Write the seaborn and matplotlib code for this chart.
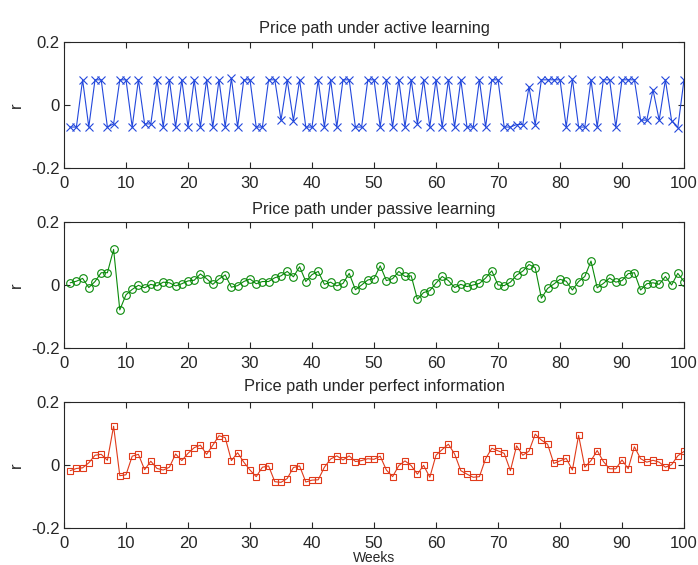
import numpy as np
import pandas as pd
import matplotlib
matplotlib.use("Agg")
import matplotlib.pyplot as plt
import seaborn as sns

weeks = list(range(1, 101))

active = [-0.07, -0.07, 0.08, -0.07, 0.08, 0.08, -0.07, -0.06, 0.08, 0.08,
          -0.07, 0.08, -0.06, -0.06, 0.08, -0.07, 0.08, -0.07, 0.08, -0.07,
          0.08, -0.07, 0.08, -0.07, 0.08, -0.07, 0.085, -0.07, 0.08, 0.08,
          -0.07, -0.07, 0.08, 0.08, -0.048, 0.08, -0.05, 0.08, -0.07, -0.07,
          0.08, -0.07, 0.08, -0.07, 0.08, 0.08, -0.07, -0.07, 0.08, 0.08,
          -0.07, 0.08, -0.07, 0.08, -0.07, 0.08, -0.06, 0.08, -0.07, 0.08,
          -0.07, 0.08, -0.07, 0.08, -0.07, -0.07, 0.08, -0.07, 0.08, 0.08,
          -0.07, -0.07, -0.062, -0.062, 0.058, -0.063, 0.08, 0.08, 0.08, 0.08,
          -0.07, 0.082, -0.07, -0.07, 0.08, -0.07, 0.08, 0.08, -0.07, 0.08,
          0.08, 0.08, -0.048, -0.048, 0.048, -0.048, 0.08, -0.05, -0.072, 0.08]

passive = [0.007, 0.012, 0.021, -0.008, 0.011, 0.039, 0.039, 0.113, -0.079, -0.031,
           -0.014, -0.001, -0.009, 0.002, -0.003, 0.009, 0.007, -0.003, 0.004, 0.013,
           0.015, 0.035, 0.020, 0.002, 0.019, 0.032, -0.007, -0.002, 0.011, 0.019,
           0.004, 0.011, 0.011, 0.023, 0.029, 0.043, 0.026, 0.058, 0.011, 0.033,
           0.043, 0.002, 0.009, -0.003, 0.005, 0.037, -0.015, 0.000, 0.016, 0.020,
           0.061, 0.014, 0.020, 0.043, 0.027, 0.029, -0.045, -0.024, -0.018, 0.006,
           0.027, 0.014, -0.008, 0.002, -0.005, 0.000, 0.005, 0.022, 0.045, 0.000,
           -0.002, 0.009, 0.031, 0.044, 0.065, 0.055, -0.042, -0.011, 0.003, 0.018,
           0.012, -0.016, 0.011, 0.027, 0.076, -0.009, 0.005, 0.022, 0.009, 0.014,
           0.036, 0.039, -0.016, 0.004, 0.007, 0.002, 0.027, 0.000, 0.037, 0.011]

perfect = [-0.018, -0.011, -0.009, 0.007, 0.031, 0.034, 0.015, 0.123, -0.034, -0.031,
           0.028, 0.034, -0.015, 0.012, -0.011, -0.016, -0.007, 0.035, 0.014, 0.037,
           0.055, 0.063, 0.034, 0.063, 0.093, 0.087, 0.014, 0.039, 0.009, -0.016,
           -0.037, -0.007, -0.003, -0.053, -0.055, -0.043, -0.008, -0.003, -0.054, -0.048,
           -0.047, -0.007, 0.019, 0.029, 0.016, 0.029, 0.011, 0.014, 0.020, 0.018,
           0.028, -0.016, -0.037, -0.002, 0.013, -0.002, -0.029, -0.001, -0.039, 0.031,
           0.049, 0.066, 0.035, -0.018, -0.029, -0.039, -0.037, 0.020, 0.053, 0.045,
           0.037, -0.018, 0.061, 0.031, 0.044, 0.098, 0.079, 0.066, 0.005, 0.013,
           0.021, -0.016, 0.094, -0.007, 0.014, 0.046, 0.011, -0.012, -0.012, 0.016,
           -0.012, 0.058, 0.020, 0.009, 0.015, 0.009, -0.007, 0.001, 0.029, 0.043]

titles = ["Price path under active learning",
          "Price path under passive learning",
          "Price path under perfect information"]
ytick_vals = [-0.2, 0, 0.2]
ytick_labels = ["-0.2", "0", "0.2"]
xtick_vals = [0, 10, 20, 30, 40, 50, 60, 70, 80, 90, 100]
xtick_labels = ["0", "10", "20", "30", "40", "50", "60", "70", "80", "90", "100"]

sns.set_style("ticks")
plt.rcParams['font.family'] = ['Liberation Sans', 'DejaVu Sans']
plt.rcParams['axes.unicode_minus'] = False

fig = plt.figure(figsize=(6.98, 5.65), dpi=100)
W, H = 698, 565
left_px, right_px = 64, 684
panels_px = [(42, 168), (222, 348), (402, 528)]
title_pads = [6.5, 5.5, 8]

series = [active, passive, perfect]
colors = ["#2348dc", "#0a8a0a", "#e03a1a"]
markers = ["x", "o", "s"]
msizes = [6, 5.5, 4.6]

for i, (top, bot) in enumerate(panels_px):
    ax = fig.add_axes([left_px / W, 1 - bot / H, (right_px - left_px) / W, (bot - top) / H])
    df = pd.DataFrame({"week": weeks, "r": series[i]})
    sns.lineplot(data=df, x="week", y="r", ax=ax, color=colors[i], linewidth=0.8,
                 marker=markers[i], markersize=msizes[i],
                 markerfacecolor="none", markeredgecolor=colors[i], markeredgewidth=0.8)
    ax.set_xlim(0, 100)
    ax.set_ylim(-0.2, 0.2)
    ax.set_xticks(xtick_vals)
    ax.set_xticklabels(xtick_labels)
    ax.set_yticks(ytick_vals)
    ax.set_yticklabels(ytick_labels)
    ax.tick_params(direction="in", top=True, right=True, labelsize=12, length=4.5,
                   width=0.8, pad=3)
    ax.tick_params(axis="x", pad=6)
    for s in ax.spines.values():
        s.set_visible(True)
        s.set_linewidth(0.8)
    ax.set_title(titles[i], fontsize=11.8, pad=title_pads[i])
    ax.set_ylabel("r", fontsize=12, labelpad=5)
    if i == 2:
        ax.set_xlabel("Weeks", fontsize=10, labelpad=0)
    else:
        ax.set_xlabel("")

fig.savefig("out.png", dpi=100)
